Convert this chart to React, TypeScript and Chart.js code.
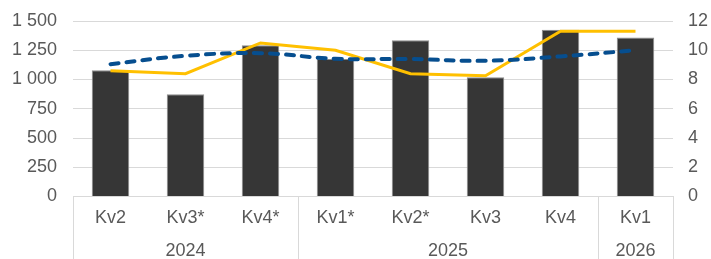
import React, { useEffect, useRef } from "react";
import { Chart, registerables } from "chart.js";

Chart.register(...registerables);

const quarters = ["Kv2", "Kv3*", "Kv4*", "Kv1*", "Kv2*", "Kv3", "Kv4", "Kv1"];
const years = ["2024", "2025", "2026"];
const yearSpans = [3, 4, 1];
const barValues = [1078, 873, 1292, 1175, 1335, 1020, 1425, 1360];
const yellowValues = [8.6, 8.4, 10.5, 10.0, 8.4, 8.25, 11.3, 11.3];
const blueValues = [9.05, 9.62, 9.8, 9.42, 9.4, 9.28, 9.58, 10.0];
const leftTicks = [0, 250, 500, 750, 1000, 1250, 1500];
const rightTicks = [0, 2, 4, 6, 8, 10, 12];

const FONT = "'Liberation Sans', Arial, sans-serif";
const FS = 18;
const TEXT = "#595959";
const GRID = "#d9d9d9";

const fmt = (v: number) => {
  const s = String(Math.round(v));
  return s.replace(/\B(?=(\d{3})+(?!\d))/g, " ");
};

const groupPlugin = {
  id: "groups",
  afterDraw(chart: any) {
    const { ctx, chartArea } = chart;
    const x = chart.scales.x;
    const step = x.getPixelForValue(1) - x.getPixelForValue(0);
    const bottom = chart.height;
    ctx.save();
    ctx.strokeStyle = GRID;
    ctx.lineWidth = 1;
    let idx = 0;
    const bounds: number[] = [x.getPixelForValue(0) - step / 2];
    yearSpans.forEach((n) => {
      idx += n;
      bounds.push(x.getPixelForValue(idx - 1) + step / 2);
    });
    bounds.forEach((bx) => {
      const px = Math.round(bx) + 0.5;
      ctx.beginPath();
      ctx.moveTo(px, chartArea.bottom);
      ctx.lineTo(px, bottom);
      ctx.stroke();
    });
    ctx.fillStyle = TEXT;
    ctx.font = `${FS}px ${FONT}`;
    ctx.textAlign = "center";
    ctx.textBaseline = "middle";
    years.forEach((y, i) => {
      ctx.fillText(y, (bounds[i] + bounds[i + 1]) / 2, 251.5);
    });
    ctx.restore();
  },
};

export default function App() {
  const ref = useRef<HTMLCanvasElement>(null);
  useEffect(() => {
    document.body.style.margin = "0";
    const chart = new Chart(ref.current as HTMLCanvasElement, {
      data: {
        labels: quarters,
        datasets: [
          {
            type: "line",
            data: blueValues,
            yAxisID: "y2",
            borderColor: "#064E8F",
            borderWidth: 4,
            borderDash: [8, 8],
            borderCapStyle: "round",
            pointRadius: 0,
            tension: 0.4,
            order: 0,
          },
          {
            type: "line",
            data: yellowValues,
            yAxisID: "y2",
            borderColor: "#FFC000",
            borderWidth: 3,
            pointRadius: 0,
            tension: 0,
            order: 1,
          },
          {
            type: "bar",
            data: barValues,
            yAxisID: "y",
            backgroundColor: "#363636",
            borderColor: "#8c8c8c",
            borderWidth: 1,
            categoryPercentage: 1,
            barPercentage: 0.5,
            order: 2,
          },
        ] as any,
      },
      options: {
        animation: false,
        responsive: false,
        maintainAspectRatio: false,
        layout: { padding: { top: 21, left: 0, right: 0, bottom: 0 } },
        plugins: { legend: { display: false }, tooltip: { enabled: false } },
        scales: {
          x: {
            grid: { display: false, drawTicks: false },
            border: { display: true, color: GRID, width: 1 },
            ticks: {
              color: TEXT,
              font: { family: FONT, size: FS },
              padding: 11,
              maxRotation: 0,
              autoSkip: false,
            },
            afterFit: (s: any) => {
              s.height = 62.5;
              s.paddingLeft = 0;
              s.paddingRight = 0;
            },
          },
          y: {
            position: "left",
            min: 0,
            max: 1500,
            afterBuildTicks: (s: any) => {
              s.ticks = leftTicks.map((v) => ({ value: v }));
            },
            grid: { color: GRID, drawTicks: false, lineWidth: 1 },
            border: { display: false },
            ticks: {
              color: TEXT,
              font: { family: FONT, size: FS },
              padding: 16,
              callback: (v: any) => fmt(Number(v)),
            },
            afterFit: (s: any) => {
              s.width = 73;
              s.paddingTop = 0;
              s.paddingBottom = 0;
            },
          },
          y2: {
            position: "right",
            min: 0,
            max: 12,
            afterBuildTicks: (s: any) => {
              s.ticks = rightTicks.map((v) => ({ value: v }));
            },
            grid: { display: false, drawTicks: false },
            border: { display: false },
            ticks: {
              color: TEXT,
              font: { family: FONT, size: FS },
              padding: 15,
              callback: (v: any) => String(v),
            },
            afterFit: (s: any) => {
              s.width = 38;
              s.paddingTop = 0;
              s.paddingBottom = 0;
            },
          },
        },
      } as any,
      plugins: [groupPlugin],
    });
    return () => chart.destroy();
  }, []);
  return (
    <div style={{ width: 711, height: 259 }}>
      <canvas ref={ref} width={711} height={259} style={{ display: "block" }} />
    </div>
  );
}
